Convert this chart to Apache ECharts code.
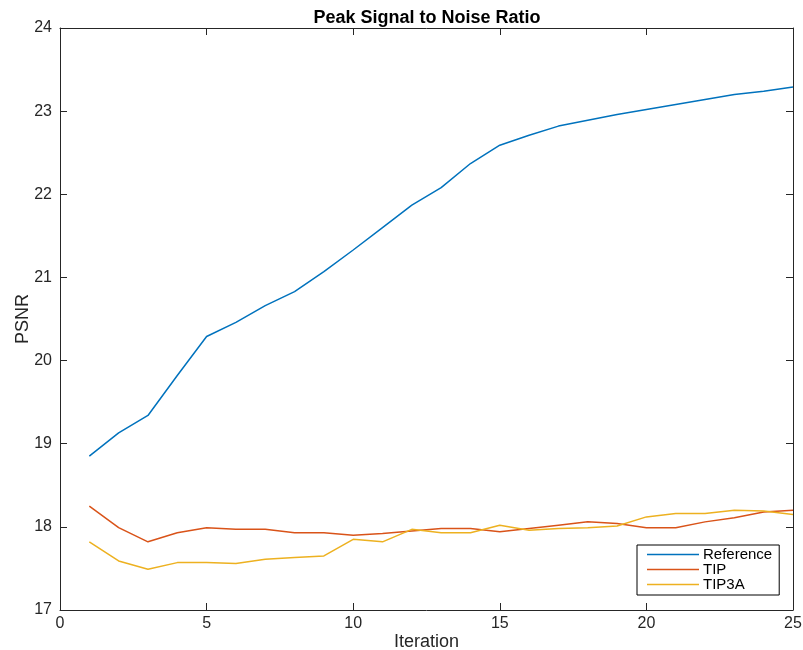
<!DOCTYPE html>
<html>
<head>
<meta charset="utf-8">
<script src="https://cdn.jsdelivr.net/npm/echarts@6/dist/echarts.min.js"></script>
<style>
  html, body { margin: 0; padding: 0; background: #fff; }
  #chart { width: 803px; height: 650px; }
</style>
</head>
<body>
<div id="chart"></div>
<script>
// values
const iterations = [1, 2, 3, 4, 5, 6, 7, 8, 9, 10, 11, 12, 13, 14, 15, 16, 17, 18, 19, 20, 21, 22, 23, 24, 25]
const reference = [18.85, 19.13, 19.34, 19.82, 20.29, 20.46, 20.66, 20.83, 21.07, 21.33, 21.60, 21.87, 22.08, 22.37, 22.59, 22.71, 22.82, 22.89, 22.96, 23.02, 23.08, 23.14, 23.20, 23.24, 23.29]
const tip = [18.25, 17.99, 17.82, 17.93, 17.99, 17.97, 17.97, 17.93, 17.93, 17.90, 17.92, 17.95, 17.98, 17.98, 17.94, 17.98, 18.02, 18.06, 18.04, 17.99, 17.99, 18.06, 18.11, 18.18, 18.20]
const tip3a = [17.82, 17.59, 17.49, 17.57, 17.57, 17.56, 17.61, 17.63, 17.65, 17.85, 17.82, 17.97, 17.93, 17.93, 18.02, 17.96, 17.98, 17.99, 18.01, 18.12, 18.16, 18.16, 18.20, 18.19, 18.15]
const seriesNames = ['Reference', 'TIP', 'TIP3A']
const seriesColors = ['#0072BD', '#D95319', '#EDB120']

const font = 'Liberation Sans, Helvetica, Arial, sans-serif'
const axisColor = '#262626'

function pairs (ys) {
  return iterations.map((x, i) => [x, ys[i]])
}

const chart = echarts.init(document.getElementById('chart'))

const commonAxis = {
  axisLine: { show: true, onZero: false, lineStyle: { color: axisColor, width: 1 } },
  axisTick: { show: true, inside: true, length: 7, lineStyle: { color: axisColor } },
  splitLine: { show: false }
}

chart.setOption({
  animation: false,
  textStyle: { fontFamily: font },
  title: {
    text: 'Peak Signal to Noise Ratio',
    left: 422,
    textAlign: 'center',
    top: 4,
    textStyle: { fontFamily: font, fontSize: 18, fontWeight: 'bold', color: '#000' }
  },
  grid: { left: 60, right: 10, top: 28, bottom: 40, containLabel: false, outerBoundsMode: 'none' },
  legend: {
    data: seriesNames,
    orient: 'vertical',
    left: 637,
    top: 545,
    itemWidth: 52,
    itemHeight: 14,
    itemGap: 0,
    icon: 'path://M0,0H52V1.5H0Z',
    padding: [2, 7, 3, 10],
    borderColor: '#000',
    borderWidth: 1,
    backgroundColor: '#fff',
    textStyle: { fontFamily: font, fontSize: 15, color: '#000', padding: [0, 0, 0, -1] }
  },
  xAxis: [
    Object.assign({}, commonAxis, {
      type: 'value',
      min: 0,
      max: 25,
      interval: 5,
      name: 'Iteration',
      nameLocation: 'middle',
      nameGap: 23,
      nameMoveOverlap: false,
      nameTextStyle: { fontFamily: font, fontSize: 18, color: axisColor },
      axisLabel: { fontFamily: font, fontSize: 16, color: axisColor, margin: 6 }
    }),
    Object.assign({}, commonAxis, {
      type: 'value',
      position: 'top',
      min: 0,
      max: 25,
      interval: 5,
      axisLabel: { show: false }
    })
  ],
  yAxis: [
    Object.assign({}, commonAxis, {
      type: 'value',
      min: 17,
      max: 24,
      interval: 1,
      name: 'PSNR',
      nameLocation: 'middle',
      nameGap: 28,
      nameMoveOverlap: false,
      nameTextStyle: { fontFamily: font, fontSize: 18, color: axisColor },
      axisLabel: { fontFamily: font, fontSize: 16, color: axisColor, margin: 8 }
    }),
    Object.assign({}, commonAxis, {
      type: 'value',
      position: 'right',
      min: 17,
      max: 24,
      interval: 1,
      axisLabel: { show: false }
    })
  ],
  series: [reference, tip, tip3a].map((ys, i) => ({
    name: seriesNames[i],
    type: 'line',
    data: pairs(ys),
    symbol: 'none',
    color: seriesColors[i],
    lineStyle: { width: 1.5, color: seriesColors[i] }
  }))
})
</script>
</body>
</html>
